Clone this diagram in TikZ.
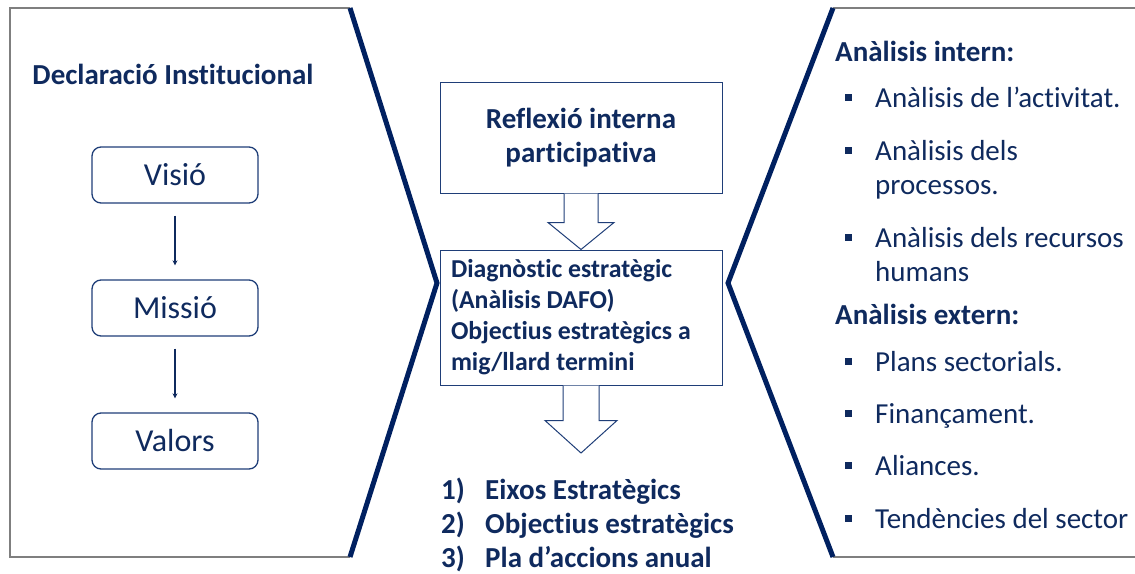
\documentclass[tikz,border=0pt]{standalone}
\usepackage{fontspec}
\setmainfont{Carlito}[Ligatures=NoCommon]
\usetikzlibrary{calc,arrows.meta}
\definecolor{navy}{HTML}{0F2A5E}
\definecolor{chev}{HTML}{002060}
\definecolor{boxline}{HTML}{1F3E78}
\definecolor{outl}{HTML}{7F7F7F}
\begin{document}
\begin{tikzpicture}[x=1pt,y=-1pt,
  outline/.style={draw=outl,line width=1.2pt},
  chevron/.style={draw=chev,line width=5pt,line join=miter},
  roundbox/.style={draw=boxline,line width=1.3pt,rounded corners=9pt,minimum width=166pt,minimum height=56pt,text=navy,font=\fontsize{32}{36}\selectfont},
  midbox/.style={draw=boxline,line width=1pt,fill=white,text=navy,font=\bfseries\fontsize{29}{34}\selectfont},
  blockarrow/.style={draw=boxline,line width=1pt,fill=white},
  head/.style={text=navy,font=\bfseries\fontsize{29}{34}\selectfont,anchor=base west,inner sep=0pt},
  item/.style={text=navy,font=\fontsize{29}{34}\selectfont,anchor=base west,inner sep=0pt},
  listitem/.style={text=navy,font=\bfseries\fontsize{29}{34}\selectfont,anchor=base west,inner sep=0pt},
  bul/.style={fill=navy,minimum size=7pt,inner sep=0pt},
  thinarrow/.style={draw=navy,line width=1.2pt,-{Stealth[length=5pt,width=5pt]}}
]
\useasboundingbox (0,0) rectangle (1135,573);
% left shape
\draw[outline] (350,8) -- (10,8) -- (10,557) -- (350,557);
\draw[chevron] (350,8) -- (437,283) -- (350,557);
% right shape
\draw[outline] (833,8) -- (1136,8);
\draw[outline] (833,557) -- (1136,557);
\draw[chevron] (833,8) -- (728,283) -- (833,557);

% left column
\node[head,anchor=base] (decl) at (173,84) {Declaració Institucional};
\node[roundbox] (visio) at (175,175) {Visió};
\node[roundbox] (missio) at (175,308) {Missió};
\node[roundbox] (valors) at (175,441) {Valors};
\draw[thinarrow,shorten <=12pt,shorten >=14pt] (visio.south) -- (missio.north);
\draw[thinarrow,shorten <=12pt,shorten >=14pt] (missio.south) -- (valors.north);

% middle column
\node[midbox,minimum width=282pt,minimum height=111pt,align=center] (refl) at (581,137.5) {Reflexió interna\\participativa};
\node[midbox,minimum width=282pt,minimum height=135pt,text width=260pt,inner xsep=11pt,align=flush left,font=\bfseries\fontsize{25.8}{31}\selectfont] (diag) at (581,317.5) {Diagnòstic estratègic\\(Anàlisis DAFO)\\Objectius estratègics a\\mig/llard termini};
\draw[blockarrow] ($(refl.south)+(-17,0)$) -- ($(refl.south)+(-17,29)$) -- ($(refl.south)+(-33,29)$) -- (diag.north) -- ($(refl.south)+(33,29)$) -- ($(refl.south)+(17,29)$) -- ($(refl.south)+(17,0)$);
\coordinate (tip2) at (581,453);
\draw[blockarrow] ($(diag.south)+(-18,0)$) -- ($(diag.south)+(-18,35)$) -- ($(diag.south)+(-36,35)$) -- (tip2) -- ($(diag.south)+(36,35)$) -- ($(diag.south)+(18,35)$) -- ($(diag.south)+(18,0)$);
\node[listitem] (n1) at (441,499) {1)};
\node[listitem] (l1) at (485,499) {Eixos Estratègics};
\node[listitem] (n2) at (441,533) {2)};
\node[listitem] (l2) at (485,533) {Objectius estratègics};
\node[listitem] (n3) at (441,567) {3)};
\node[listitem] (l3) at (485,567) {Pla d’accions anual};

% right column
\node[head] (intern) at (835,61) {Anàlisis intern:};
\node[bul] (b1) at (848,97) {};
\node[item] (i1) at (875,107) {Anàlisis de l’activitat.};
\node[bul] (b2) at (848,150) {};
\node[item] (i2) at (875,160) {Anàlisis dels};
\node[item] (i2b) at (875,194) {processos.};
\node[bul] (b3) at (848,237) {};
\node[item] (i3) at (875,247) {Anàlisis dels recursos};
\node[item] (i3b) at (875,281) {humans};
\node[head] (extern) at (835,324) {Anàlisis extern:};
\node[bul] (b4) at (848,361) {};
\node[item] (i4) at (875,371) {Plans sectorials.};
\node[bul] (b5) at (848,413) {};
\node[item] (i5) at (875,423) {Finançament.};
\node[bul] (b6) at (848,465) {};
\node[item] (i6) at (875,475) {Aliances.};
\node[bul] (b7) at (848,518) {};
\node[item] (i7) at (875,528) {Tendències del sector};
\end{tikzpicture}
\end{document}
